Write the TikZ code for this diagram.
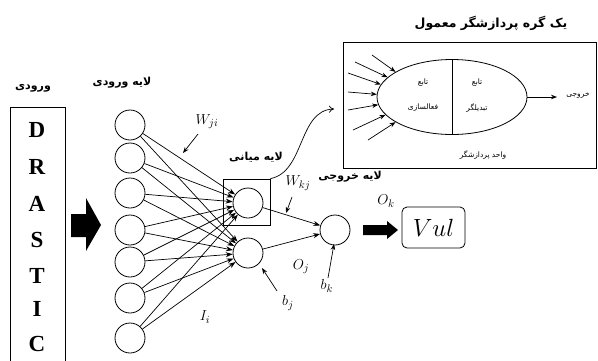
\documentclass[tikz,border=0pt]{standalone}
\usepackage{fontspec}
\usetikzlibrary{arrows.meta,shapes.geometric}
\TeXXeTstate=1
\newfontfamily\fa[Script=Arabic]{DejaVu Sans}
\newfontfamily\tms{Liberation Serif}
\begin{document}
\begin{tikzpicture}[x=1pt,y=-1pt,
  neuron/.style={circle,draw,line width=0.8pt,minimum size=30pt,inner sep=0pt},
  conn/.style={line width=0.7pt,-{Stealth[length=7pt,width=5pt]}},
  lblarrow/.style={line width=0.7pt,-{Stealth[length=6pt,width=4.5pt]}},
  fab/.style={font=\fa\bfseries\fontsize{11}{13}\selectfont,inner sep=1pt},
  fas/.style={font=\fa\fontsize{7.5}{9}\selectfont,inner sep=1pt},
  mlbl/.style={font=\fontsize{15}{15}\selectfont,inner sep=1pt},
  letter/.style={font=\tms\bfseries\fontsize{23}{23}\selectfont,inner sep=0pt},
  blockarrow/.style={fill=black}
]
\useasboundingbox (0,0) rectangle (598,360);

% input word box
\node[fab] (inlbl) at (33,88) {\beginR ورودی\endR};
\draw[line width=0.8pt] (10,107) rectangle (65,372);
\node[letter] (d1) at (37,130) {D};
\node[letter] (d2) at (37,167) {R};
\node[letter] (d3) at (37,204) {A};
\node[letter] (d4) at (37,240) {S};
\node[letter] (d5) at (37,276) {T};
\node[letter] (d6) at (37,309) {I};
\node[letter] (d7) at (37,344) {C};

% big block arrow
\fill[blockarrow] (71,214) -- (86,214) -- (86,198) -- (101,225) -- (86,251) -- (86,237) -- (71,237) -- cycle;

% input layer
\node[fab] (illbl) at (122,83) {\beginR لایه ورودی\endR};
\foreach \i/\y in {1/125,2/158,3/193,4/230,5/262,6/298,7/338}
  \node[neuron] (i\i) at (130,\y) {};

% hidden layer
\node[neuron] (h1) at (248,203) {};
\node[neuron] (h2) at (248,253) {};
\node[draw,line width=0.8pt,minimum width=47pt,minimum height=46pt,inner sep=0pt] (hbox) at (246.5,202) {};
\node[fab] (hllbl) at (256,157) {\beginR لایه میانی\endR};

\foreach \i in {1,...,7}{
  \draw[conn] (i\i) -- (h1);
  \draw[conn] (i\i) -- (h2);
}

% output layer
\node[neuron] (o) at (335,230) {};
\node[fab] (ollbl) at (350,177) {\beginR لایه خروجی\endR};
\draw[conn] (h1) -- (o);
\draw[conn] (h2) -- (o);

% small block arrow and result
\fill[blockarrow] (363,225) -- (387,225) -- (387,221) -- (398,230) -- (387,239) -- (387,235) -- (363,235) -- cycle;
\node[draw,line width=0.8pt,rounded corners=5pt,minimum width=63pt,minimum height=41pt] (vul) at (433.5,227.5) {\fontsize{25}{25}\selectfont$Vul$};

% math labels
\node[mlbl] (wji) at (207,122) {$W_{ji}$};
\coordinate (wjitip) at (183,153);
\draw[lblarrow] (198,134) -- (wjitip);
\node[mlbl] (wkj) at (298,183) {$W_{kj}$};
\coordinate (wkjtip) at (286,213);
\draw[lblarrow] (292,197) -- (wkjtip);
\node[mlbl] (ok) at (386,201) {$O_k$};
\node[mlbl] (oj) at (301,267) {$O_j$};
\node[mlbl] (bj) at (288,303) {$b_j$};
\coordinate (bjtip) at (262,268);
\draw[lblarrow] (277,291) -- (bjtip);
\node[mlbl] (bk) at (327,286) {$b_k$};
\coordinate (bktip) at (334,244);
\draw[lblarrow] (328,278) -- (bktip);
\node[mlbl] (ii) at (205,317) {$I_i$};

% processor box
\node[fab,font=\fa\bfseries\fontsize{12.5}{14}\selectfont] (ptitle) at (491,23) {\beginR یک گره پردازشگر معمول\endR};
\draw[line width=0.8pt] (343,42) rectangle (596,168);
\node[ellipse,draw,line width=0.8pt,minimum width=150pt,minimum height=75pt,inner sep=0pt] (ell) at (452,97) {};
\draw[line width=0.8pt] (ell.north) -- (ell.south);
\node[fas] (t1) at (423,83) {\beginR تابع\endR};
\node[fas] (t2) at (423,108) {\beginR فعالسازی\endR};
\node[fas] (t3) at (477,83) {\beginR تابع\endR};
\node[fas] (t4) at (477,108) {\beginR تبدیلگر\endR};
\node[fas] (punit) at (483,155) {\beginR واحد پردازشگر\endR};
\coordinate (pout) at (557,97);
\draw[lblarrow] (ell.east) -- (pout);
\node[fas] (poutlbl) at (578,95) {\beginR خروجی\endR};
\foreach \k/\tx/\ty/\a in {1/372/55/156,2/355/62/163,3/348/73/170,4/348/92/178,5/348/110/186,6/353/130/195,7/368/140/204}{
  \coordinate (pin\k) at (\tx,\ty);
  \draw[lblarrow] (pin\k) -- (ell.\a);
}

% curved link
\coordinate (ptarget) at (334,109);
\draw[line width=0.7pt,-{To[length=5pt,width=7pt]}] (hbox.north east) .. controls (305,172) and (298,110) .. (ptarget);
\end{tikzpicture}
\end{document}
